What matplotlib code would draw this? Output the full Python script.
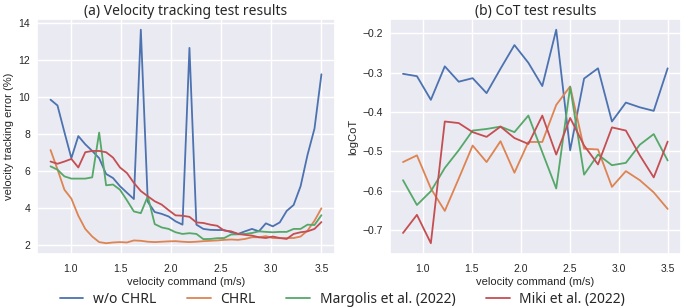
import matplotlib
matplotlib.use("Agg")
import matplotlib.pyplot as plt
import numpy as np
import seaborn as sns

# velocity commands (m/s)
vel_a = np.linspace(0.8, 3.5, 40)
vel_b = np.linspace(0.8, 3.5, 20)

labels = ["w/o CHRL", "CHRL", "Margolis et al. (2022)", "Miki et al. (2022)"]

# (a) velocity tracking error (%)
err_wo = [9.85, 9.54, 8.1, 6.7, 7.89, 7.45, 7.09, 6.7, 5.85, 5.63, 5.19, 4.84, 4.5, 13.62,
          4.35, 3.8, 3.7, 3.56, 3.3, 3.12, 12.64, 3.12, 2.89, 2.84, 2.83, 2.83, 2.71,
          2.62, 2.76, 2.89, 2.76, 3.19, 3.03, 3.24, 3.86, 4.18, 5.19, 6.88, 8.29, 11.22]
err_chrl = [7.14, 6.1, 5.0, 4.52, 3.6, 2.89, 2.48, 2.18, 2.12, 2.16, 2.18, 2.16, 2.27, 2.25,
            2.2, 2.18, 2.2, 2.22, 2.23, 2.2, 2.18, 2.2, 2.23, 2.25, 2.27, 2.3, 2.32,
            2.3, 2.35, 2.44, 2.44, 2.5, 2.4, 2.39, 2.4, 2.4, 2.48, 2.8, 3.33, 4.0]
err_marg = [6.26, 6.08, 5.72, 5.6, 5.6, 5.6, 5.67, 8.08, 5.24, 5.28, 5.0, 4.43, 3.83, 3.74,
            4.65, 3.15, 2.97, 2.89, 2.71, 2.62, 2.66, 2.62, 2.34, 2.35, 2.39, 2.4, 2.59,
            2.6, 2.62, 2.67, 2.76, 2.73, 2.71, 2.73, 2.73, 2.89, 2.89, 3.12, 3.1, 3.63]
err_miki = [6.52, 6.4, 6.52, 6.66, 6.2, 7.02, 7.09, 7.09, 7.02, 6.73, 6.2, 5.9, 5.37, 4.93,
            4.65, 4.38, 4.2, 3.9, 3.62, 3.6, 3.54, 3.24, 3.21, 3.12, 3.06, 2.8, 2.76,
            2.62, 2.57, 2.53, 2.44, 2.4, 2.48, 2.4, 2.35, 2.62, 2.71, 2.76, 2.89, 3.26]

# (b) log CoT
cot_wo = [-0.303, -0.309, -0.369, -0.284, -0.323, -0.314, -0.352, -0.290, -0.230, -0.275,
          -0.334, -0.191, -0.497, -0.315, -0.289, -0.424, -0.376, -0.388, -0.397, -0.289]
cot_chrl = [-0.527, -0.510, -0.594, -0.651, -0.569, -0.485, -0.527, -0.474, -0.554, -0.476,
            -0.476, -0.382, -0.335, -0.493, -0.495, -0.590, -0.550, -0.573, -0.604, -0.646]
cot_marg = [-0.573, -0.636, -0.601, -0.542, -0.497, -0.447, -0.443, -0.437, -0.451, -0.409,
            -0.502, -0.594, -0.336, -0.559, -0.508, -0.535, -0.529, -0.483, -0.456, -0.523]
cot_miki = [-0.707, -0.661, -0.733, -0.424, -0.428, -0.451, -0.463, -0.437, -0.466, -0.481,
            -0.409, -0.508, -0.415, -0.485, -0.533, -0.439, -0.447, -0.510, -0.566, -0.475]

sns.set_theme(style="darkgrid")
plt.rcParams["font.family"] = ["Liberation Sans", "DejaVu Sans"]

colors = ["#4C72B0", "#DD8452", "#55A868", "#C44E52"]

fig = plt.figure(figsize=(6.85, 3.07), dpi=100)
ax1 = fig.add_axes([0.054, 0.173, 0.435, 0.765])
ax2 = fig.add_axes([0.569, 0.173, 0.425, 0.765])

for ys, c, lab in zip([err_wo, err_chrl, err_marg, err_miki], colors, labels):
    ax1.plot(vel_a, ys, color=c, lw=1.3, label=lab)
for ys, c in zip([cot_wo, cot_chrl, cot_marg, cot_miki], colors):
    ax2.plot(vel_b, ys, color=c, lw=1.3)

title_font = ["Noto Sans", "DejaVu Sans"]
ax1.set_title("(a) Velocity tracking test results", fontsize=10, family=title_font, pad=3)
ax2.set_title("(b) CoT test results", fontsize=10, family=title_font, pad=3)

ax1.set_ylabel("velocity tracking error (%)", fontsize=8, labelpad=3)
ax2.set_ylabel("logCoT", fontsize=8, labelpad=3)
for ax in (ax1, ax2):
    ax.set_xlabel("velocity command (m/s)", fontsize=8, labelpad=2.5)
    ax.set_xticks([1.0, 1.5, 2.0, 2.5, 3.0, 3.5])
    ax.tick_params(labelsize=7.5, length=0)
    ax.tick_params(axis="x", pad=7)
    ax.tick_params(axis="y", pad=5)

ax1.set_yticks([2, 4, 6, 8, 10, 12, 14])
ax2.set_yticks([-0.7, -0.6, -0.5, -0.4, -0.3, -0.2])

handles, labs = ax1.get_legend_handles_labels()
fig.legend(handles, labs, loc="center", ncol=4, frameon=False,
           bbox_to_anchor=(0.5, 0.025), prop={"family": title_font, "size": 10},
           handlelength=1.7, handletextpad=0.7, columnspacing=2.2, borderpad=0)

fig.savefig("out.png", dpi=100)
